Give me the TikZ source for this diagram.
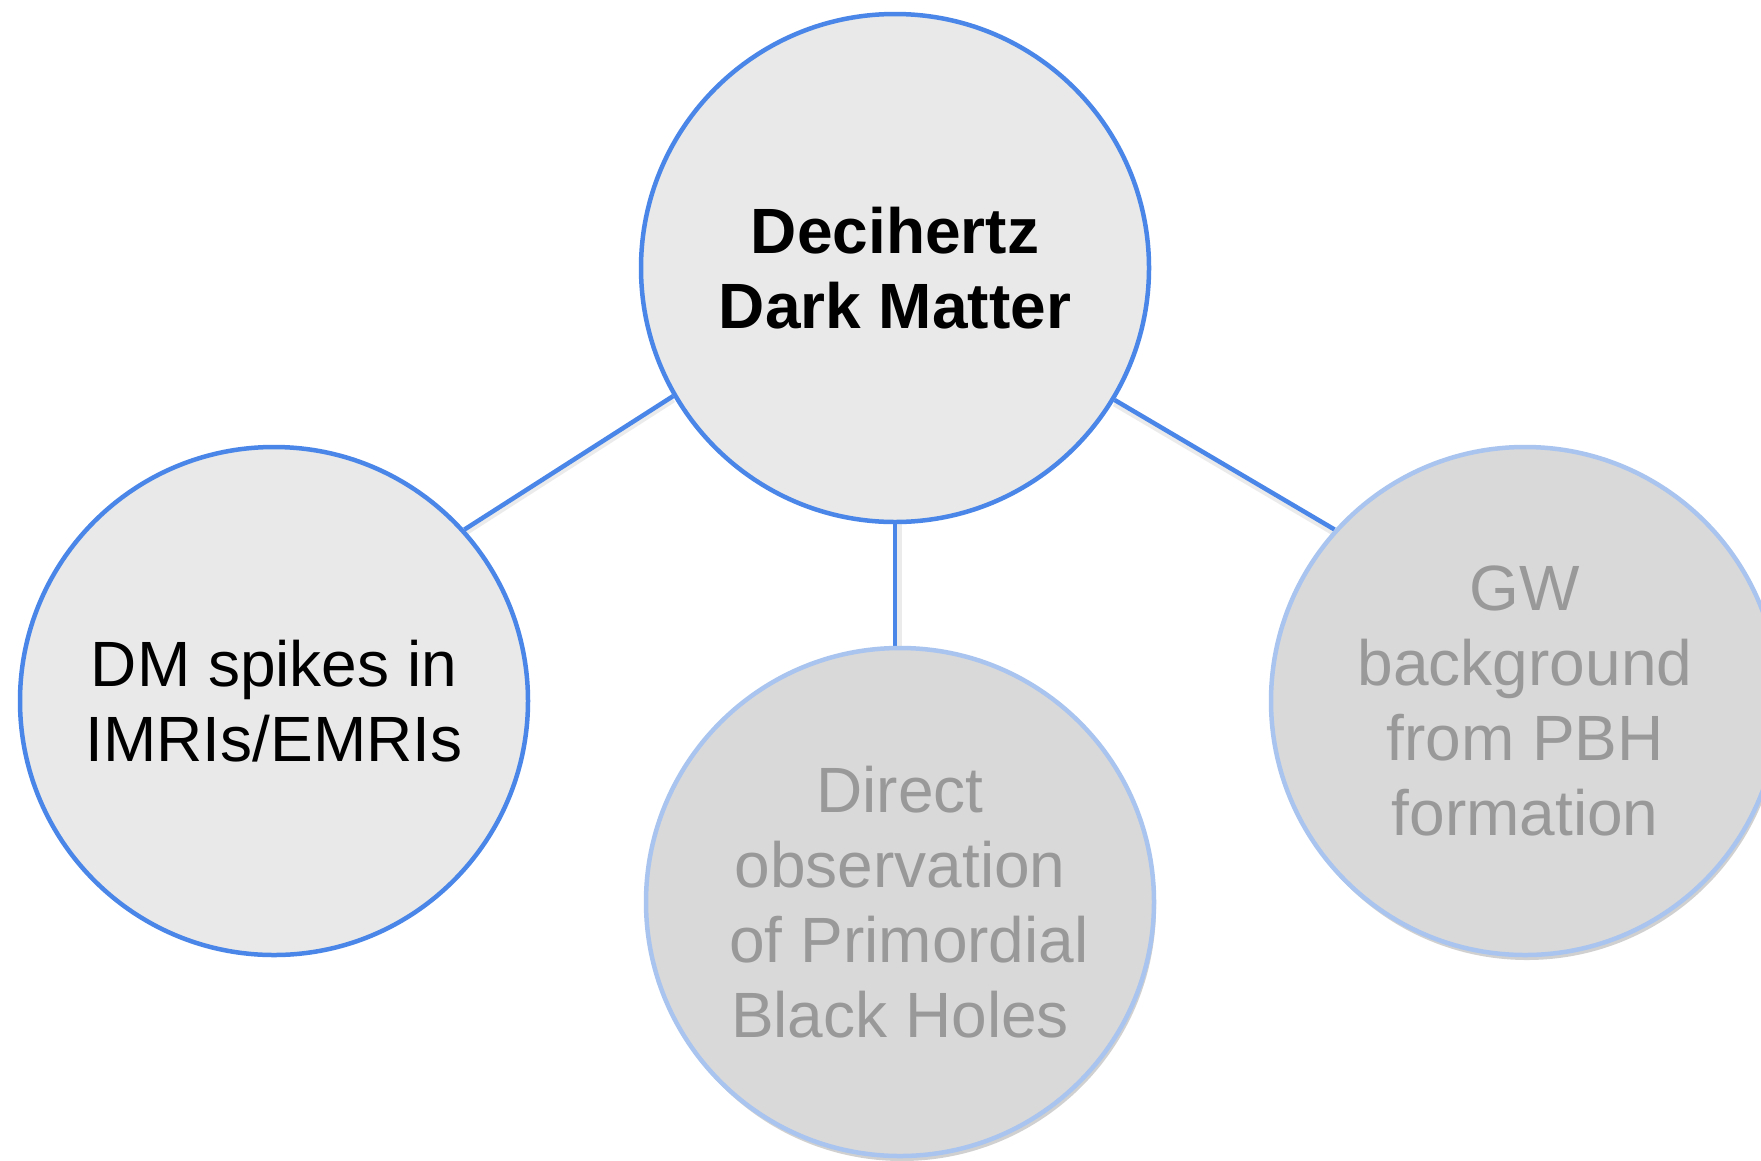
\documentclass[tikz,border=0pt]{standalone}
\usepackage{fontspec}
\setmainfont{Liberation Sans}
\usetikzlibrary{shadows,backgrounds}
\definecolor{gblue}{HTML}{4A86E8}
\definecolor{lblue}{HTML}{A9C4EE}
\definecolor{fillA}{HTML}{E9E9E9}
\definecolor{fillB}{HTML}{D9D9D9}
\definecolor{txtgray}{HTML}{999999}
\tikzset{
  bubble/.style={circle, minimum size=508pt, inner sep=0pt, align=center,
    font=\fontsize{64}{75}\selectfont, line width=4.5pt},
  activebubble/.style={bubble, draw=gblue, fill=fillA, text=black},
  dimbubble/.style={bubble, draw=lblue, fill=fillB, text=txtgray,
    drop shadow={shadow xshift=2pt, shadow yshift=-5pt, opacity=0.3, fill=black!60}},
  link/.style={draw=gblue, line width=4.5pt},
  linkshadow/.style={draw=black, opacity=0.08, line width=7pt}
}
\begin{document}
\begin{tikzpicture}[x=1pt,y=-1pt]
\clip (0,0) rectangle (1761,1160);
\node[activebubble, font=\fontsize{64}{75}\selectfont\bfseries] (top) at (895,268) {Decihertz\\Dark Matter};
\node[activebubble] (left) at (274,701) {DM spikes in\\IMRIs/EMRIs};
\node[dimbubble] (bottom) at (900,902) {Direct\\observation\\\hspace*{18pt}of Primordial\\Black Holes};
\node[dimbubble] (right) at (1525,701) {GW\\background\\from PBH\\formation};
\begin{scope}[on background layer]
\fill[white] (0,0) rectangle (1761,1160);
\draw[linkshadow, transform canvas={yshift=-3pt}] (top.210.7) -- (left.42.2);
\draw[linkshadow, transform canvas={yshift=-3pt}] (top.329.6) -- (right.138.8);
\draw[linkshadow, transform canvas={xshift=3pt}] (top.south) -- (top.south |- bottom.north);
\draw[link] (top.210.7) -- (left.42.2);
\draw[link] (top.329.6) -- (right.138.8);
\draw[link] (top.south) -- (top.south |- bottom.north);
\end{scope}
\end{tikzpicture}
\end{document}
